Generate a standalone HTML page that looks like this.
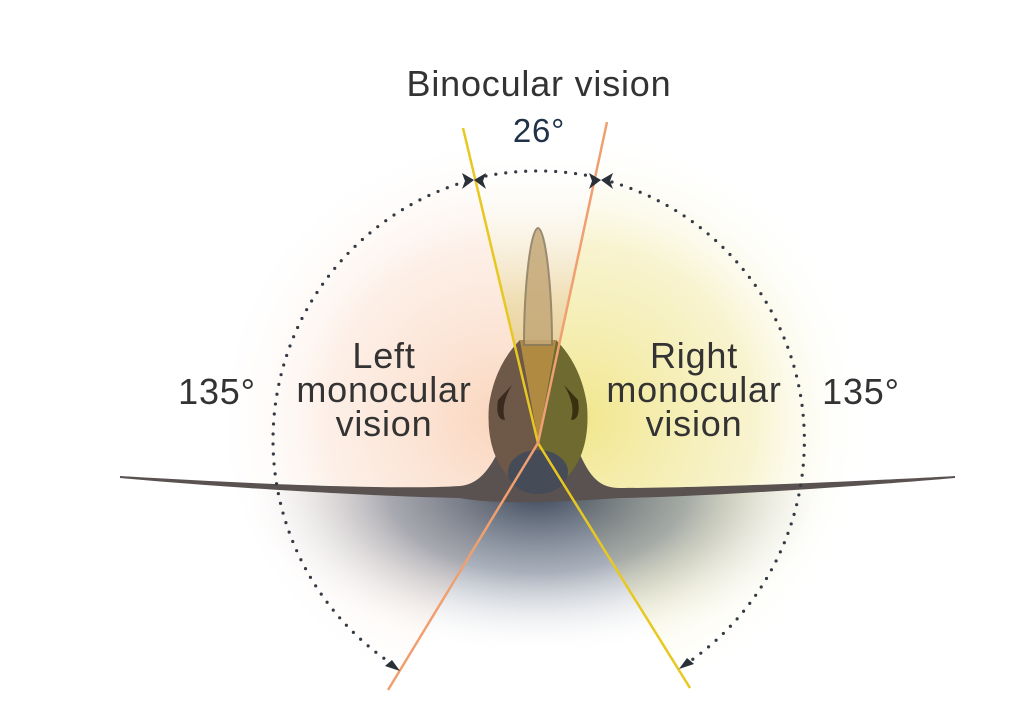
<!DOCTYPE html>
<html><head><meta charset="utf-8"><style>
html,body{margin:0;padding:0;background:#fff;width:1012px;height:722px;overflow:hidden}
text{font-family:"Liberation Sans",sans-serif}
</style></head><body>
<svg width="1012" height="722" viewBox="0 0 1012 722" xmlns="http://www.w3.org/2000/svg">
<defs>
<radialGradient id="lg" cx="500" cy="420" r="290" gradientUnits="userSpaceOnUse">
<stop offset="0" stop-color="#f8c8a8" stop-opacity="0.75"/>
<stop offset="0.6" stop-color="#fbe0d0" stop-opacity="0.5"/>
<stop offset="1" stop-color="#fff" stop-opacity="0"/>
</radialGradient>
<radialGradient id="rg" cx="580" cy="420" r="290" gradientUnits="userSpaceOnUse">
<stop offset="0" stop-color="#eee070" stop-opacity="0.8"/>
<stop offset="0.6" stop-color="#f2eaa8" stop-opacity="0.55"/>
<stop offset="1" stop-color="#fff" stop-opacity="0"/>
</radialGradient>
<radialGradient id="sh" cx="538" cy="490" r="300" gradientUnits="userSpaceOnUse" gradientTransform="matrix(1 0 0 0.55 0 220.5)">
<stop offset="0" stop-color="#3a4455" stop-opacity="1"/>
<stop offset="0.5" stop-color="#7a8596" stop-opacity="0.65"/>
<stop offset="1" stop-color="#fff" stop-opacity="0"/>
</radialGradient>
<linearGradient id="bg" x1="0" y1="150" x2="0" y2="440" gradientUnits="userSpaceOnUse">
<stop offset="0" stop-color="#fff" stop-opacity="0"/>
<stop offset="0.5" stop-color="#e2c070" stop-opacity="0.5"/>
<stop offset="1" stop-color="#c89a30" stop-opacity="0.8"/>
</linearGradient>
<clipPath id="below">
<path d="M120 477 C250 485 400 494 460 492 C480 490 490 472 500 450 L576 450 C590 480 600 492 620 492 C700 492 850 484 955 477 L955 722 L120 722Z"/>
</clipPath>
</defs>
<path d="M538 440 L459 109 A340 340 0 0 0 362 731 Z" fill="url(#lg)"/>
<path d="M538 440 L610 107 A340 340 0 0 1 717 729 Z" fill="url(#rg)"/>
<g clip-path="url(#below)">
<rect x="120" y="440" width="840" height="282" fill="url(#sh)"/>
</g>
<path d="M538 440 L463 128 L607 122 Z" fill="url(#bg)"/>
<path d="M120 476 C250 484 400 490 460 486 C480 484 490 468 500 448 L530 420 L560 430 L578 450 C590 478 600 488 620 488 C700 488 850 482 955 476 L955 478 C850 487 700 497 620 498 C520 505 480 502 460 498 C400 497 250 490 120 478Z" fill="#5a5250"/>
<path d="M538 440 L520 340 Q495 365 489 405 Q485 455 512 480 Q540 500 538 440Z" fill="#6e5848"/>
<path d="M538 440 L556 340 Q581 365 587 405 Q591 455 564 480 Q540 500 538 440Z" fill="#6e6a30"/>
<ellipse cx="538" cy="472" rx="30" ry="22" fill="#454b57"/>
<path d="M538 440 L520 340 L556 340Z" fill="#b08a40"/>
<path d="M524 345 C524 290 530 230 538 228 C546 230 552 290 552 345 Z" fill="#c4a878" stroke="#8a7a60" stroke-width="2" opacity="0.85"/>
<path d="M498 400 Q495 420 505 420 Q500 405 512 385Z" fill="#3a2a20"/>
<path d="M578 400 Q581 420 571 420 Q576 405 564 385Z" fill="#3a3010"/>
<polyline points="463,128 538,443 690,688" fill="none" stroke="#e8c820" stroke-width="2.5"/>
<polyline points="607,122 538,443 388,690" fill="none" stroke="#f0a070" stroke-width="2.5"/>
<g fill="none" stroke="#333a44" stroke-width="3.2" stroke-linecap="round" stroke-dasharray="0 10">
<path d="M392 664 A270 270 0 0 1 464 182"/>
<path d="M486 176 A270 270 0 0 1 590 176"/>
<path d="M612 182 A270 270 0 0 1 686 664"/>
</g>
<g fill="#2a3038">
<polygon points="474,180 462,173 465,181 462,189"/>
<polygon points="474,180 486,173 483,181 486,189"/>
<polygon points="601,180 589,173 592,181 589,189"/>
<polygon points="601,180 613,173 610,181 613,189"/>
<polygon points="400,671 385,666 392,660"/>
<polygon points="679,669 694,664 687,658"/>
</g>
<g fill="#333" font-size="36" letter-spacing="0.8" text-anchor="middle">
<text x="539" y="96">Binocular vision</text>
<text x="539" y="142" fill="#1f3248" font-size="33">26°</text>
<text x="384" y="368">Left</text>
<text x="384" y="402">monocular</text>
<text x="384" y="436">vision</text>
<text x="694" y="368">Right</text>
<text x="694" y="402">monocular</text>
<text x="694" y="436">vision</text>
<text x="217" y="404">135°</text>
<text x="861" y="404">135°</text>
</g>
</svg>
</body></html>
